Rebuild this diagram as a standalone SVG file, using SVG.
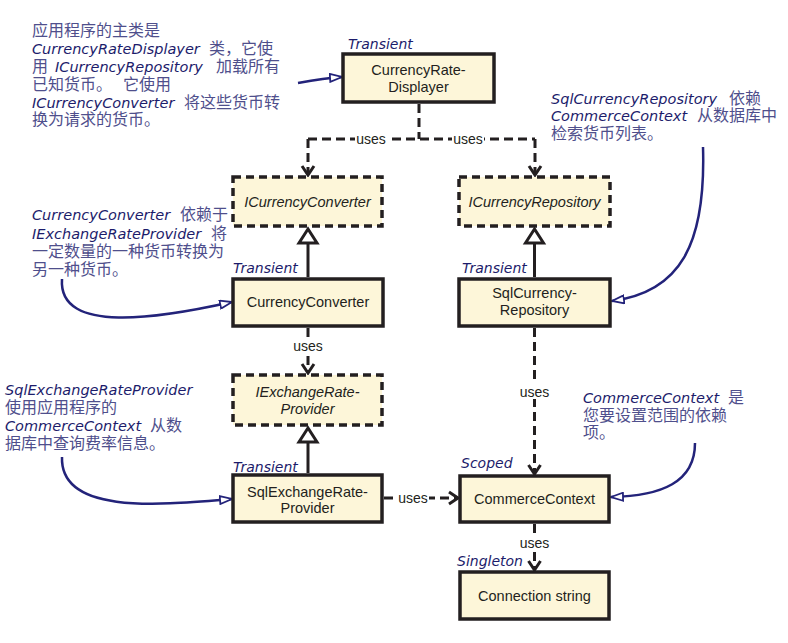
<svg xmlns="http://www.w3.org/2000/svg" width="788" height="643" viewBox="0 0 788 643">
<defs>
<style>
.box{fill:#FDF6D9;stroke:#231F20;stroke-width:3.5}
.ibox{fill:#FDF6D9;stroke:#231F20;stroke-width:3.5;stroke-dasharray:8 5}
.t{font-family:"Liberation Sans",Arial,sans-serif;font-size:14.5px;fill:#231F20;text-anchor:middle}
.it{font-style:italic}
.dash{fill:none;stroke:#231F20;stroke-width:3;stroke-dasharray:9 5}
.solid{fill:none;stroke:#231F20;stroke-width:3}
.head{fill:none;stroke:#231F20;stroke-width:3;stroke-linejoin:miter}
.tri{fill:#FFFFFF;stroke:#231F20;stroke-width:3}
.uses{font-family:"Liberation Sans",Arial,sans-serif;font-size:14px;fill:#231F20;text-anchor:middle}
.lbl{fill:#FFFFFF}
.life{font-family:"DejaVu Sans",sans-serif;font-style:italic;font-size:14px;fill:#1C1C6B}
.note{font-family:"Noto Sans CJK SC","DejaVu Sans",sans-serif;font-size:16px;fill:#4F4F8C}
.code{font-family:"DejaVu Sans",sans-serif;font-style:italic;font-size:14.5px;fill:#1C1C6B}
.call{fill:none;stroke:#23237A;stroke-width:2.5}
</style>
<marker id="open" viewBox="0 0 14 10" refX="13" refY="5" markerWidth="14" markerHeight="10" markerUnits="userSpaceOnUse" orient="auto">
<path d="M1,1 L13,5 L1,9 Z" fill="#FFFFFF" stroke="#23237A" stroke-width="1.8"/>
</marker>
</defs>
<rect width="788" height="643" fill="#FFFFFF"/>

<g id="connectors">
<path class="dash" d="M419,104 V139"/>
<path class="dash" d="M308,139 H535"/>
<path class="dash" d="M308,139 V174"/>
<path class="dash" d="M535,139 V174"/>
<polyline class="head" points="302,166 308,175 314,166"/>
<polyline class="head" points="529,166 535,175 541,166"/>
<rect class="lbl" x="355" y="130" width="32" height="16"/>
<text class="uses" x="371" y="144">uses</text>
<rect class="lbl" x="452" y="130" width="32" height="16"/>
<text class="uses" x="468" y="144">uses</text>

<path class="solid" d="M308,277 V243"/>
<polygon class="tri" points="308,229 299,243 317,243"/>
<path class="solid" d="M534.5,277 V243"/>
<polygon class="tri" points="534.5,229 525.5,243 543.5,243"/>

<path class="dash" d="M308,328 V372"/>
<polyline class="head" points="302,364 308,373 314,364"/>
<rect class="lbl" x="292" y="337" width="32" height="16"/>
<text class="uses" x="308" y="351">uses</text>

<path class="solid" d="M308,473 V442"/>
<polygon class="tri" points="308,428 299,442 317,442"/>

<path class="dash" d="M534.5,328 V473"/>
<polyline class="head" points="528.5,465 534.5,474 540.5,465"/>
<rect class="lbl" x="518" y="383" width="33" height="16"/>
<text class="uses" x="534.5" y="397">uses</text>

<path class="dash" d="M384,498 H457"/>
<polyline class="head" points="449,492 458,498 449,504"/>
<rect class="lbl" x="397" y="490" width="32" height="16"/>
<text class="uses" x="413" y="503">uses</text>

<path class="dash" d="M534.5,524 V569"/>
<polyline class="head" points="528.5,561 534.5,570 540.5,561"/>
<rect class="lbl" x="518" y="534" width="33" height="16"/>
<text class="uses" x="534.5" y="548">uses</text>

<path class="call" d="M298,83 C315,80 328,78 342,77" marker-end="url(#open)"/>
<path class="call" d="M703,147 C706,245 680,292 612,301" marker-end="url(#open)"/>
<path class="call" d="M62,279 C58,335 160,318 232,302" marker-end="url(#open)"/>
<path class="call" d="M62,457 C60,515 160,505 232,499" marker-end="url(#open)"/>
<path class="call" d="M695,443 C695,482 662,496 611,497" marker-end="url(#open)"/>
</g>

<g id="n-displayer">
<text class="life" x="348" y="49">Transient</text>
<rect class="box" x="343" y="54" width="151" height="48"/>
<text class="t" x="418.5" y="75">CurrencyRate-</text>
<text class="t" x="418.5" y="92">Displayer</text>
</g>
<g id="n-icurrencyconverter">
<rect class="ibox" x="233" y="177" width="149" height="49"/>
<text class="t it" x="307.5" y="207">ICurrencyConverter</text>
</g>
<g id="n-icurrencyrepository">
<rect class="ibox" x="459" y="177" width="151" height="49"/>
<text class="t it" x="534.5" y="207">ICurrencyRepository</text>
</g>
<g id="n-currencyconverter">
<text class="life" x="233" y="273">Transient</text>
<rect class="box" x="233" y="279" width="150" height="47"/>
<text class="t" x="308" y="307">CurrencyConverter</text>
</g>
<g id="n-sqlcurrencyrepository">
<text class="life" x="462" y="273">Transient</text>
<rect class="box" x="459" y="279" width="151" height="47"/>
<text class="t" x="534.5" y="298">SqlCurrency-</text>
<text class="t" x="534.5" y="315">Repository</text>
</g>
<g id="n-iexchangerateprovider">
<rect class="ibox" x="233" y="375" width="149" height="50"/>
<text class="t it" x="307.5" y="397">IExchangeRate-</text>
<text class="t it" x="307.5" y="414">Provider</text>
</g>
<g id="n-sqlexchangerateprovider">
<text class="life" x="233" y="472">Transient</text>
<rect class="box" x="233" y="475" width="149" height="47"/>
<text class="t" x="307.5" y="497">SqlExchangeRate-</text>
<text class="t" x="307.5" y="513">Provider</text>
</g>
<g id="n-commercecontext">
<text class="life" x="461" y="468">Scoped</text>
<rect class="box" x="460" y="476" width="149" height="46"/>
<text class="t" x="534.5" y="504">CommerceContext</text>
</g>
<g id="n-connectionstring">
<text class="life" x="457" y="566">Singleton</text>
<rect class="box" x="460" y="572" width="149" height="47"/>
<text class="t" x="534.5" y="601">Connection string</text>
</g>

<g id="note-displayer">
<text class="note" x="32" y="36">应用程序的主类是</text>
<text y="54"><tspan class="code" x="32">CurrencyRateDisplayer</tspan><tspan class="note" x="209">类，它使</tspan></text>
<text y="72"><tspan class="note" x="32">用</tspan><tspan class="code" x="55">ICurrencyRepository</tspan><tspan class="note" x="216">加载所有</tspan></text>
<text y="90"><tspan class="note" x="32">已知货币。</tspan><tspan class="note" x="123">它使用</tspan></text>
<text y="108"><tspan class="code" x="32">ICurrencyConverter</tspan><tspan class="note" x="184">将这些货币转</tspan></text>
<text class="note" x="32" y="125">换为请求的货币。</text>
</g>
<g id="note-sqlcurrencyrepository">
<text y="104"><tspan class="code" x="551">SqlCurrencyRepository</tspan><tspan class="note" x="729">依赖</tspan></text>
<text y="121"><tspan class="code" x="551">CommerceContext</tspan><tspan class="note" x="697">从数据库中</tspan></text>
<text class="note" x="551" y="139">检索货币列表。</text>
</g>
<g id="note-currencyconverter">
<text y="220"><tspan class="code" x="32">CurrencyConverter</tspan><tspan class="note" x="180">依赖于</tspan></text>
<text y="239"><tspan class="code" x="32">IExchangeRateProvider</tspan><tspan class="note" x="211">将</tspan></text>
<text class="note" x="32" y="257">一定数量的一种货币转换为</text>
<text class="note" x="32" y="275">另一种货币。</text>
</g>
<g id="note-sqlexchangerateprovider">
<text class="code" x="5" y="395">SqlExchangeRateProvider</text>
<text class="note" x="5" y="413">使用应用程序的</text>
<text y="431"><tspan class="code" x="5">CommerceContext</tspan><tspan class="note" x="150">从数</tspan></text>
<text class="note" x="5" y="449">据库中查询费率信息。</text>
</g>
<g id="note-commercecontext">
<text y="403"><tspan class="code" x="583">CommerceContext</tspan><tspan class="note" x="728">是</tspan></text>
<text class="note" x="583" y="421">您要设置范围的依赖</text>
<text class="note" x="583" y="438">项。</text>
</g>
</svg>
